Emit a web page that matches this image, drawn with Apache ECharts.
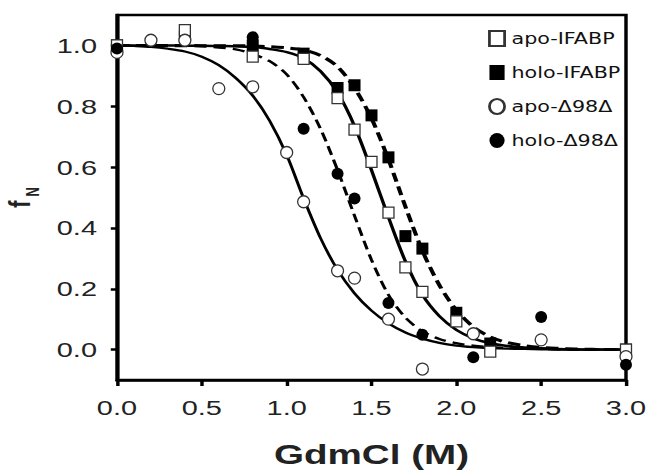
<!DOCTYPE html>
<html>
<head>
<meta charset="utf-8">
<script src="https://cdn.jsdelivr.net/npm/echarts@6/dist/echarts.min.js"></script>
<style>
  html, body { margin: 0; padding: 0; background: #fff; overflow: hidden; }
  /* the original figure is stretched sideways, so the chart is drawn narrow and widened */
  #chart { width: 470px; height: 472px; transform: scaleX(1.3787); transform-origin: 0 0; }
</style>
</head>
<body>
<div id="chart"></div>
<script>
var SX = 648 / 470; // horizontal stretch of the page

// measured points [GdmCl (M), fN]
var apoIFABP = [[0,1.0],[0.4,1.05],[0.8,0.963],[1.1,0.956],[1.3,0.827],[1.4,0.723],[1.5,0.617],[1.6,0.45],[1.7,0.27],[1.8,0.19],[2.0,0.093],[2.2,-0.007],[3.0,0.0]];
var holoIFABP = [[0,1.0],[0.4,1.03],[0.8,1.0],[1.1,0.973],[1.3,0.86],[1.4,0.869],[1.5,0.77],[1.6,0.632],[1.7,0.373],[1.8,0.332],[2.0,0.121],[2.2,0.02],[3.0,0.0]];
var apoD98 = [[0,0.977],[0.2,1.017],[0.4,1.017],[0.6,0.858],[0.8,0.864],[1.0,0.648],[1.1,0.486],[1.3,0.259],[1.4,0.235],[1.6,0.10],[1.8,-0.064],[2.1,0.052],[2.5,0.032],[3.0,-0.023]];
var holoD98 = [[0,0.99],[0.8,1.027],[1.1,0.726],[1.3,0.578],[1.4,0.497],[1.6,0.153],[1.8,0.049],[2.1,-0.025],[2.5,0.107],[3.0,-0.05]];

// fitted curves, every 0.1 M
var curveX = [0,0.1,0.2,0.3,0.4,0.5,0.6,0.7,0.8,0.9,1.0,1.1,1.2,1.3,1.4,1.5,1.6,1.7,1.8,1.9,2.0,2.1,2.2,2.3,2.4,2.5,2.6,2.7,2.8,2.9,3.0];
var fitApoD98    = [1.0,0.998,0.995,0.989,0.98,0.963,0.935,0.893,0.835,0.752,0.64,0.497,0.366,0.262,0.185,0.128,0.086,0.056,0.036,0.022,0.013,0.008,0.005,0.003,0.002,0.001,0,0,0,0,0];
var fitHoloD98   = [1.0,1.0,0.999,0.998,0.998,0.997,0.993,0.987,0.972,0.948,0.905,0.83,0.725,0.59,0.44,0.295,0.18,0.105,0.06,0.035,0.021,0.013,0.008,0.005,0.003,0.002,0.001,0,0,0,0];
var fitApoIFABP  = [1.0,1.0,1.0,1.0,0.999,0.999,0.998,0.997,0.995,0.988,0.978,0.958,0.915,0.845,0.735,0.59,0.435,0.29,0.18,0.11,0.065,0.037,0.021,0.012,0.007,0.004,0.002,0.001,0,0,0];
var fitHoloIFABP = [1.0,1.0,1.0,1.0,1.0,0.999,0.999,0.999,0.998,0.996,0.992,0.985,0.967,0.93,0.86,0.76,0.625,0.47,0.325,0.212,0.13,0.075,0.042,0.023,0.013,0.007,0.004,0.002,0.001,0,0];

var yTicks = [0,0.2,0.4,0.6,0.8,1.0];
var names = ['apo-IFABP','holo-IFABP','apo-Δ98Δ','holo-Δ98Δ'];

// circle as a path so it can be squeezed back to round after the stretch
var CIRCLE = 'path://M0,50 A50,50 0 1,1 100,50 A50,50 0 1,1 0,50 Z';

function pairs(xs, ys){
    var out = [];
    for (var i = 0; i < xs.length; i++) out.push([xs[i], ys[i]]);
    return out;
}

function fitLine(ys, dashed, w){
    return {
        type:'line', data:pairs(curveX, ys), showSymbol:false, smooth:0.3,
        silent:true, z:2,
        lineStyle:{color:'#000', width:w, type: dashed ? [9,5] : 'solid'}
    };
}

function points(name, data, symbol, filled, size){
    return {
        name:name, type:'scatter', data:data, symbol:symbol, symbolSize:[size / SX, size], z:5,
        itemStyle:{color: filled ? '#000' : '#fff', borderColor: filled ? '#000' : '#333', borderWidth: filled ? 0 : 1.1, opacity:1}
    };
}

var labelFont = {fontFamily:'"Liberation Sans", Arial, sans-serif', fontSize:21, color:'#222'};

var option = {
    animation:false,
    backgroundColor:'#fff',
    grid:{left:117 / SX, right:22 / SX, top:15, bottom:92, outerBoundsMode:'none', containLabel:false,
          show:true, borderColor:'#000', borderWidth:2.5},
    legend:{
        orient:'vertical', left:349, top:25, itemWidth:11, itemHeight:15, itemGap:18,
        symbolKeepAspect:false,
        data:[
            {name:names[0], icon:'rect'},
            {name:names[1], icon:'rect'},
            {name:names[2], icon:CIRCLE},
            {name:names[3], icon:CIRCLE}
        ],
        textStyle:{fontFamily:'"DejaVu Sans", Verdana, sans-serif', fontSize:15, color:'#111'}
    },
    xAxis:{
        type:'value', min:0, max:3, interval:0.5,
        name:'GdmCl (M)', nameLocation:'middle', nameGap:60,
        nameTextStyle:{fontFamily:'"Liberation Sans", Arial, sans-serif', fontSize:28, fontWeight:'bold', color:'#222'},
        axisLine:{show:true, onZero:false, lineStyle:{color:'#000', width:2.5}},
        axisTick:{show:true, inside:false, length:6, lineStyle:{color:'#000', width:2.5}},
        axisLabel:Object.assign({margin:17, formatter:function(v){ return v.toFixed(1); }}, labelFont),
        splitLine:{show:false}
    },
    yAxis:{
        type:'value', min:-0.1, max:1.1,
        name:'{f|f}{n|N}', nameLocation:'middle', nameGap:41, nameRotate:90,
        nameTextStyle:{
            rich:{
                f:{fontFamily:'"Liberation Sans", Arial, sans-serif', fontSize:22, fontWeight:'bold', color:'#222', verticalAlign:'top', lineHeight:27},
                n:{fontFamily:'"Liberation Sans", Arial, sans-serif', fontSize:13, fontWeight:'bold', color:'#222', verticalAlign:'bottom', lineHeight:27, padding:[0,0,0,4]}
            }
        },
        axisLine:{show:true, onZero:false, lineStyle:{color:'#000', width:2.5}},
        axisTick:{show:true, inside:false, length:4.5, customValues:yTicks, lineStyle:{color:'#000', width:2.5}},
        axisLabel:Object.assign({margin:14.5, customValues:yTicks, formatter:function(v){ return v.toFixed(1); }}, labelFont),
        splitLine:{show:false}
    },
    series:[
        fitLine(fitApoD98, false, 2.2),
        fitLine(fitHoloD98, true, 2.3),
        fitLine(fitApoIFABP, false, 2.5),
        fitLine(fitHoloIFABP, true, 3),
        points(names[1], holoIFABP, 'rect', true, 12),
        points(names[0], apoIFABP, 'rect', false, 11),
        points(names[2], apoD98, CIRCLE, false, 12),
        points(names[3], holoD98, CIRCLE, true, 12)
    ]
};

var chart = echarts.init(document.getElementById('chart'), null, {renderer:'svg'});
chart.setOption(option);
</script>
</body>
</html>
